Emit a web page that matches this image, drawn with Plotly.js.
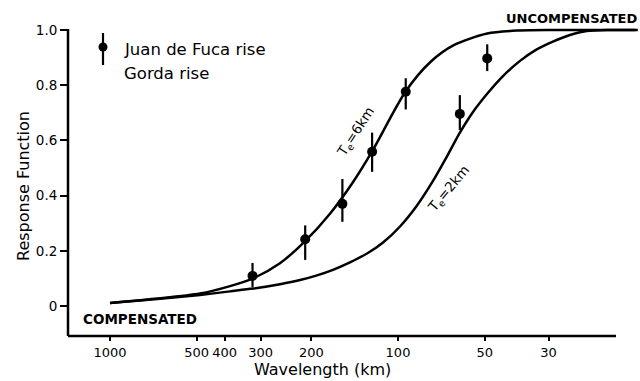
<!DOCTYPE html>
<html>
<head>
<meta charset="utf-8">
<script src="https://cdn.plot.ly/plotly-3.0.1.min.js"></script>
<style>html,body{margin:0;padding:0;background:#fff;}#chart{width:640px;height:381px;}</style>
</head>
<body>
<div id="chart"></div>
<script>
// Observed response (wavelength km, response, error + / -)
const obsWavelength = [320, 210, 156, 123, 94, 61, 49];
const obsResponse   = [0.109, 0.242, 0.370, 0.559, 0.776, 0.696, 0.897];
const obsErrPlus    = [0.047, 0.050, 0.090, 0.069, 0.049, 0.068, 0.051];
const obsErrMinus   = [0.040, 0.075, 0.065, 0.073, 0.064, 0.058, 0.046];

// Model curve Te = 6 km
const te6Wavelength = [1000, 700, 487, 383, 320, 257, 210, 172, 143, 123, 94, 77, 64, 49, 38, 29, 22, 15];
const te6Response   = [0.011, 0.026, 0.045, 0.072, 0.099, 0.155, 0.235, 0.335, 0.450, 0.560, 0.778, 0.885, 0.945, 0.987, 0.998, 1.0, 1.0, 1.0];

// Model curve Te = 2 km
const te2Wavelength = [1000, 700, 487, 383, 318.8, 256.9, 218.8, 191.1, 168.2, 146.8, 128.1, 112.7, 98.4, 85.9, 75.6, 68.1, 60.9, 54.9, 49.1, 43.2, 37.7, 33.2, 29.0, 25.3, 22.1, 18.4, 14.7];
const te2Response   = [0.011, 0.024, 0.040, 0.053, 0.063, 0.079, 0.094, 0.111, 0.131, 0.158, 0.190, 0.230, 0.288, 0.364, 0.453, 0.536, 0.629, 0.703, 0.768, 0.833, 0.888, 0.928, 0.958, 0.982, 0.996, 1.0, 1.0];

const xTickVals = [1000, 500, 400, 300, 200, 100, 50, 30];
const xTickText = ['1000', '500', '400', '300', '200', '100', '50', '30'];
const yTickVals = [0, 0.2, 0.4, 0.6, 0.8, 1.0];
const yTickText = ['0', '0.2', '0.4', '0.6', '0.8', '1.0'];

const FONT = 'DejaVu Sans, sans-serif';

const traces = [
  {x: te6Wavelength, y: te6Response, mode: 'lines', line: {color: '#000', width: 2.5, shape: 'spline', smoothing: 0.8}, name: 'Te=6km', showlegend: false, hoverinfo: 'skip'},
  {x: te2Wavelength, y: te2Response, mode: 'lines', line: {color: '#000', width: 2.5, shape: 'spline', smoothing: 0.8}, name: 'Te=2km', showlegend: false, hoverinfo: 'skip'},
  {x: obsWavelength, y: obsResponse, mode: 'markers', marker: {color: '#000', size: 10},
   error_y: {type: 'data', symmetric: false, array: obsErrPlus, arrayminus: obsErrMinus, color: '#000', thickness: 2.2, width: 0},
   name: 'Juan de Fuca rise', showlegend: false}
];

// plot area: x 68..638, y 25..336
const W = 570, H = 311;
const px = v => (v - 68) / W;
const py = v => (336 - v) / H;

const layout = {
  width: 640, height: 381,
  margin: {l: 68, r: 2, t: 25, b: 45},
  paper_bgcolor: '#fff', plot_bgcolor: '#fff',
  showlegend: false,
  font: {family: FONT, color: '#000', size: 13},
  xaxis: {
    type: 'log', range: [3.1458, 1.1667],
    tickvals: xTickVals, ticktext: xTickText,
    ticks: 'outside', ticklen: 4, tickwidth: 2, tickcolor: '#000',
    showline: false, showgrid: false, zeroline: false,
    tickfont: {family: FONT, size: 13, color: '#000'}
  },
  yaxis: {
    range: [-0.1087, 1.018],
    tickvals: yTickVals, ticktext: yTickText,
    ticks: 'outside', ticklen: 7, tickwidth: 2, tickcolor: '#000',
    showline: false, showgrid: false, zeroline: false,
    tickfont: {family: FONT, size: 13.5, color: '#000'}
  },
  shapes: [
    // axis lines
    {type: 'line', xref: 'paper', yref: 'paper', x0: 0, x1: px(616), y0: 0, y1: 0, line: {color: '#000', width: 2.5}},
    {type: 'line', xref: 'paper', yref: 'paper', x0: 0, x1: 0, y0: 0, y1: py(29), line: {color: '#000', width: 2.5}},
    // legend key: error bar + dot
    {type: 'line', xref: 'paper', yref: 'paper', x0: px(103), x1: px(103), y0: py(33), y1: py(65), line: {color: '#000', width: 2.2}},
    {type: 'circle', xref: 'paper', yref: 'paper', x0: px(98.5), x1: px(107.5), y0: py(42.5), y1: py(51.5), fillcolor: '#000', line: {color: '#000', width: 0}}
  ],
  annotations: [
    {xref: 'paper', yref: 'paper', x: px(322), y: py(369), xanchor: 'center', yanchor: 'middle', showarrow: false,
     text: 'Wavelength (km)', font: {family: FONT, size: 16, color: '#000'}},
    {xref: 'paper', yref: 'paper', x: px(24), y: py(186), xanchor: 'center', yanchor: 'middle', showarrow: false, textangle: -90,
     text: 'Response Function', font: {family: FONT, size: 16, color: '#000'}},
    {xref: 'paper', yref: 'paper', x: px(122), y: py(49), xanchor: 'left', yanchor: 'middle', showarrow: false,
     text: 'Juan de Fuca rise', font: {family: FONT, size: 16.5, color: '#000'}},
    {xref: 'paper', yref: 'paper', x: px(122), y: py(73), xanchor: 'left', yanchor: 'middle', showarrow: false,
     text: 'Gorda rise', font: {family: FONT, size: 16.5, color: '#000'}},
    {xref: 'paper', yref: 'paper', x: px(571), y: py(18), xanchor: 'center', yanchor: 'middle', showarrow: false,
     text: '<b>UNCOMPENSATED</b>', font: {family: FONT, size: 13, color: '#000'}},
    {xref: 'paper', yref: 'paper', x: px(140), y: py(319), xanchor: 'center', yanchor: 'middle', showarrow: false,
     text: '<b>COMPENSATED</b>', font: {family: FONT, size: 13.5, color: '#000'}},
    {xref: 'paper', yref: 'paper', x: px(356), y: py(132), xanchor: 'center', yanchor: 'middle', showarrow: false, textangle: -57,
     text: 'T<sub>e</sub>=6km', font: {family: FONT, size: 13.5, color: '#000'}},
    {xref: 'paper', yref: 'paper', x: px(449), y: py(189), xanchor: 'center', yanchor: 'middle', showarrow: false, textangle: -50,
     text: 'T<sub>e</sub>=2km', font: {family: FONT, size: 13.5, color: '#000'}}
  ]
};

Plotly.newPlot('chart', traces, layout, {staticPlot: true, displayModeBar: false});
</script>
</body>
</html>
